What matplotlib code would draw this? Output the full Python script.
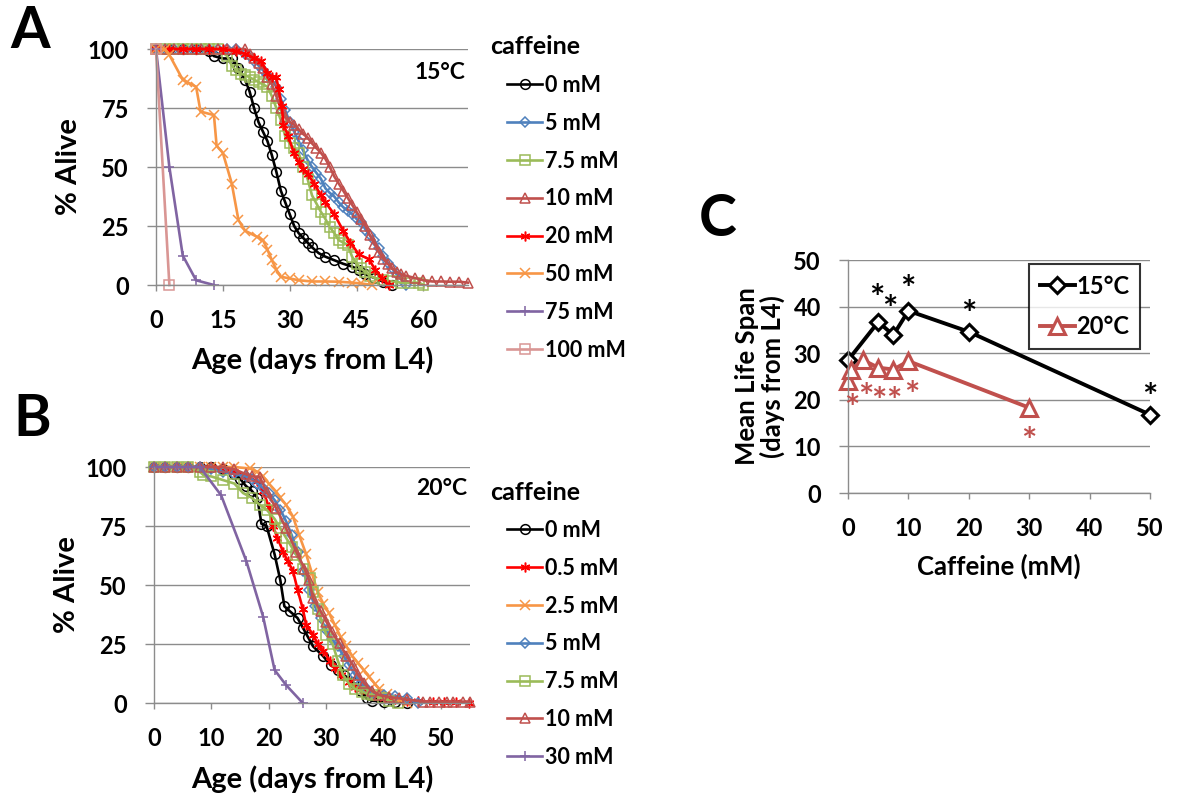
import matplotlib
matplotlib.use("Agg")
import matplotlib.pyplot as plt
from matplotlib.transforms import offset_copy

plt.rcParams["font.family"] = ["Lato", "DejaVu Sans"]
plt.rcParams["font.weight"] = "bold"

# ---- Panel A: 15°C survival (days, % alive) ----
a_0_day = [0, 3, 6, 9, 12, 13, 15, 17, 18.5, 20, 21, 22, 23, 24, 25, 26, 27, 28, 29, 30, 31, 32, 33, 34, 35, 36.5, 38, 40, 42, 44, 45.5, 47, 49, 51, 53]
a_0_val = [100, 100, 100, 100, 99, 97, 96, 96, 92, 87, 82, 75, 69, 65, 61, 55, 48, 40, 35, 30, 25, 22, 20, 18, 16, 13.5, 12, 10.5, 9, 7.8, 6.4, 4.5, 3, 1.4, 0]
a_5_day = [0, 2, 4, 6, 8, 10, 12, 14, 16, 18, 20, 21, 22, 23, 24, 25, 26, 27, 28, 29, 30, 31, 32, 33, 34, 35, 36, 37, 38, 39, 40, 41, 42, 43, 44, 45, 46, 47, 48, 49, 50, 51, 52, 53, 54, 55, 56]
a_5_val = [100, 100, 100, 100, 100, 100, 100, 100, 100, 100, 98, 97, 95, 93, 91, 89, 87, 84, 79, 74, 69, 65, 61, 57, 53, 50, 47.5, 45, 41, 39, 37.5, 35, 33, 31.5, 30, 28, 26.5, 23.5, 21, 19, 15.5, 12.5, 9.5, 7, 4.5, 2.5, 0]
a_75_day = [0, 2, 4, 6, 8, 10, 12, 14, 16, 17, 18, 19, 20, 21, 22, 23, 24, 25, 26, 27, 28, 29, 30, 31, 32, 33, 34, 35, 36, 37, 38, 39, 40, 41, 42, 43, 44, 45, 46, 47, 48, 49, 51, 53, 55, 57, 59, 60]
a_75_val = [100, 100, 100, 100, 100, 100, 100, 100, 97, 93, 91, 89.5, 89, 88, 87, 86, 85, 84, 80, 75, 70, 63, 60, 58, 56, 50, 45, 38, 34.5, 31, 28, 24.5, 22, 19, 18, 17, 12, 9, 7, 5.5, 4, 3, 2, 1.5, 1, 1, 1, 0]
a_10_day = [0, 2, 4, 6, 8, 10, 12, 14, 16, 18, 20, 21, 22, 23, 24, 25, 26, 27, 28, 29, 30, 31, 32, 33, 34, 35, 36, 37, 38, 39, 40, 41, 42, 43, 44, 45, 46, 47, 48, 49, 50, 51, 52, 53, 54, 55, 56, 58, 60, 62, 64, 66, 68, 70]
a_10_val = [100, 100, 100, 100, 100, 100, 100, 100, 100, 100, 100, 98, 96, 94, 92, 88, 85, 80, 75, 71, 69, 68, 66, 64, 62.5, 60, 58, 56, 53.5, 50, 46, 43, 40, 37, 34, 31, 28, 25, 21, 17.5, 14, 11, 9, 7, 5.5, 4.5, 4, 3, 2, 1.5, 1.5, 1.4, 1.4, 1]
a_20_day = [0, 3, 6, 9, 12, 15, 18, 20, 22, 23.5, 25, 26, 27, 27.5, 28.2, 28.6, 29.7, 30.9, 32, 33, 34, 35.5, 37, 38, 40, 42, 43.6, 45.5, 47.7, 49.2, 50.7, 52.2]
a_20_val = [100, 100, 100, 100, 100, 100, 99, 98, 96, 95, 90, 88, 88, 83, 76, 68, 63, 56, 52, 49, 47, 43, 38, 35, 30, 23, 18, 13, 11, 6.5, 3, 0]
a_50_day = [0, 2, 3, 6, 7, 9, 10, 13, 13.6, 15, 17, 18.5, 20, 22.6, 24, 25, 26, 27, 28, 30, 32, 35, 38, 41, 44, 46, 48.5]
a_50_val = [100, 100, 97.5, 87, 86, 84, 73.5, 72, 59, 56, 43, 27.5, 23, 20.5, 19, 15, 10.5, 6.5, 3.5, 2.8, 2, 1.5, 1.5, 1.4, 1, 0.7, 0]
a_750_day = [0, 3, 6, 9, 13]
a_750_val = [100, 50, 12.5, 2, 0]
a_100_day = [0, 3]
a_100_val = [100, 0]

# ---- Panel B: 20°C survival ----
b_0_day = [0, 2, 4, 6, 8, 10, 12, 14, 15, 16, 17, 18, 18.7, 19.6, 21, 22, 22.7, 23.6, 25, 25.9, 26.8, 27.7, 29.4, 30.8, 32, 33, 34.6, 36, 37, 38, 40, 42, 44]
b_0_val = [100, 100, 100, 100, 100, 100, 99, 97, 95, 92, 90, 87, 76, 75, 63, 52, 41, 39, 36, 32, 28, 24, 20, 16, 14, 12, 9, 5, 2, 1, 0.6, 0.5, 0]
b_05_day = [0, 2, 4, 6, 8, 10, 12, 14, 16, 18, 19, 20, 20.7, 21.5, 22.5, 23.3, 24.2, 25, 25.9, 26.5, 27.7, 28.5, 29.5, 30.6, 31.5, 32.5, 34, 35, 36, 37, 38.1, 40, 42, 44, 46, 48.5, 50.5, 52.5, 54.9]
b_05_val = [100, 100, 100, 100, 100, 100, 99, 98, 96, 94, 90, 83, 75, 70, 64, 60, 56, 48, 40, 33, 29, 25, 22, 18, 15, 12, 9, 7, 6, 5, 3.4, 2, 1.5, 1, 0.7, 0.5, 0.5, 0.5, 0]
b_25_day = [0, 2, 4, 6, 8, 10, 12, 14, 16.7, 18, 19, 20, 21.3, 22, 23, 24.2, 25.3, 26.5, 27.5, 28.5, 29.5, 30.5, 31.5, 32.5, 33.5, 34.5, 35.5, 36.5, 37.5, 38.5, 39.2, 40.5, 42, 44]
b_25_val = [100, 100, 100, 100, 100, 100, 100, 100, 99.4, 98, 96, 93, 89.5, 87, 84, 79, 71, 63, 55, 47, 42, 38, 33, 28, 24, 20, 17, 14, 11, 8, 6, 4, 2, 0]
b_5_day = [0, 2, 4, 6, 8, 10, 12, 14, 16, 17, 18, 19, 20, 21, 22, 23, 24, 25, 26, 27, 28, 29, 30, 31, 32, 33, 34, 35, 36, 37, 38, 40, 42, 44, 46]
b_5_val = [100, 100, 100, 100, 100, 99, 98, 97, 96, 95, 93, 91, 89, 86, 82, 77, 71, 64, 56, 48, 41, 36, 31, 27, 24, 20, 16, 12, 8.5, 6, 4, 3.4, 3, 2, 0]
b_75_day = [0, 2, 4, 6, 8, 8.6, 10, 12, 14, 15.5, 17, 18.4, 19.6, 21, 22, 23, 24, 24.8, 26, 27.1, 27.7, 28.5, 29.4, 30, 31.1, 32, 32.9, 34, 35, 36.3, 37, 38.1, 39.8, 41, 42.5]
b_75_val = [100, 100, 100, 100, 98, 96.6, 96, 94.5, 93, 89, 87, 84, 82, 78, 74, 70, 66, 62.7, 57, 53, 47, 40, 33, 29, 25, 18, 12, 8, 6, 4.8, 4, 3.4, 2, 1, 0]
b_10_day = [0, 2, 4, 6, 8, 10, 12, 14, 16, 17, 18.4, 19.6, 21.3, 23, 24.8, 26.2, 27, 27.7, 29, 30, 31, 32.3, 33.5, 34.6, 35.5, 36.6, 38, 39.2, 41, 42.7, 44, 46.8, 48, 49.6, 51, 52, 53.8, 55]
b_10_val = [100, 100, 100, 100, 100, 100, 100, 99, 97, 96, 95.9, 89.5, 82.5, 74, 64, 57, 52, 44.4, 39, 34.5, 30, 25.3, 20, 16.1, 12, 8.3, 5, 3.4, 2.5, 2, 1.5, 0.6, 0.6, 0.6, 0.6, 0.6, 0.6, 0.6]
b_30_day = [0, 2, 4, 6, 8, 11.7, 16.1, 19, 21, 23, 25.9]
b_30_val = [100, 100, 100, 100, 100, 88, 60, 36.6, 14, 7.6, 0]

# ---- Panel C: mean life span ----
c15_dose = [0, 5, 7.5, 10, 20, 50]
c15_life = [28.5, 36.7, 33.9, 39.1, 34.6, 16.8]
c15_star_x = [4.8, 7.0, 9.9, 20, 50]
c15_star_y = [43.8, 41.3, 45.6, 40.3, 22.4]
c20_dose = [0, 0.5, 2.5, 5, 7.5, 10, 30]
c20_life = [24.0, 26.4, 28.5, 26.9, 26.5, 28.3, 18.3]
c20_star_x = [0.7, 2.9, 5.1, 7.6, 10.5, 30]
c20_star_y = [20.2, 22.6, 21.6, 21.6, 23.0, 13.1]

BLACK = "#000000"
BLUE = "#4F81BD"
GREEN = "#9BBB59"
BROWN = "#C0504D"
RED = "#FF0000"
ORANGE = "#F79646"
PURPLE = "#8064A2"
PINK = "#D99694"
GRID = "#8C8C8C"
STAR = (6, 2, 0)


def excel_axes(ax, xmax, xticks, yticks, ymax):
    ax.set_xlim(0, xmax)
    ax.set_ylim(0, ymax)
    ax.set_xticks(xticks)
    ax.set_yticks(yticks)
    ax.yaxis.grid(True, color=GRID, linewidth=1.0)
    ax.set_axisbelow(True)
    for s in ["top", "right"]:
        ax.spines[s].set_visible(False)
    for s in ["left", "bottom"]:
        ax.spines[s].set_color(GRID)
        ax.spines[s].set_linewidth(1.0)
    ax.tick_params(axis="y", length=6.5, width=1.0, color=GRID, pad=13, labelsize=17)
    ax.tick_params(axis="x", length=4, width=1.0, color=GRID, pad=13, labelsize=17)


fig = plt.figure(figsize=(12, 8.09), dpi=100)

axA = fig.add_axes([0.13, 0.6477, 0.26, 0.2917])
axB = fig.add_axes([0.1283, 0.131, 0.2633, 0.2917])
axC = fig.add_axes([0.7067, 0.3906, 0.2517, 0.288])

kw = dict(linewidth=1.9, markeredgewidth=1.1, markerfacecolor="none", clip_on=False)

seriesA = [
    (a_0_day, a_0_val, BLACK, "o", "0 mM"),
    (a_5_day, a_5_val, BLUE, "D", "5 mM"),
    (a_75_day, a_75_val, GREEN, "s", "7.5 mM"),
    (a_10_day, a_10_val, BROWN, "^", "10 mM"),
    (a_20_day, a_20_val, RED, STAR, "20 mM"),
    (a_50_day, a_50_val, ORANGE, "x", "50 mM"),
    (a_750_day, a_750_val, PURPLE, "+", "75 mM"),
    (a_100_day, a_100_val, PINK, "s", "100 mM"),
]
handlesA = []
for d, v, c, m, lab in seriesA:
    ms = 5.5 if m == "D" else 7
    h, = axA.plot(d, v, color=c, marker=m, markersize=ms, label=lab, **kw)
    handlesA.append(h)
excel_axes(axA, 70, [0, 15, 30, 45, 60], [0, 25, 50, 75, 100], 100)
axA.text(69.5, 90, "15°C", ha="right", va="center", fontsize=16.5, fontweight="bold")
axA.set_xlabel("Age (days from L4)", fontsize=21, fontweight="bold", labelpad=11)
axA.set_ylabel("% Alive", fontsize=21, fontweight="bold", labelpad=4)

seriesB = [
    (b_0_day, b_0_val, BLACK, "o", "0 mM"),
    (b_05_day, b_05_val, RED, STAR, "0.5 mM"),
    (b_25_day, b_25_val, ORANGE, "x", "2.5 mM"),
    (b_5_day, b_5_val, BLUE, "D", "5 mM"),
    (b_75_day, b_75_val, GREEN, "s", "7.5 mM"),
    (b_10_day, b_10_val, BROWN, "^", "10 mM"),
    (b_30_day, b_30_val, PURPLE, "+", "30 mM"),
]
handlesB = []
for d, v, c, m, lab in seriesB:
    ms = 5.5 if m == "D" else 7
    h, = axB.plot(d, v, color=c, marker=m, markersize=ms, label=lab, **kw)
    handlesB.append(h)
excel_axes(axB, 55, [0, 10, 20, 30, 40, 50], [0, 25, 50, 75, 100], 100)
axB.text(54.5, 91, "20°C", ha="right", va="center", fontsize=16.5, fontweight="bold")
axB.set_xlabel("Age (days from L4)", fontsize=21, fontweight="bold", labelpad=11)
axB.set_ylabel("% Alive", fontsize=21, fontweight="bold", labelpad=4)

legkw = dict(frameon=False, fontsize=15.5, labelspacing=0.78, handlelength=1.63,
             handletextpad=0.15, borderpad=0, borderaxespad=0, numpoints=1)
fig.legend(handles=handlesA, loc="upper left", bbox_to_anchor=(507 / 1200, 1 - 75 / 809), **legkw)
fig.legend(handles=handlesB, loc="upper left", bbox_to_anchor=(507 / 1200, 1 - 520 / 809), **legkw)
fig.text(490 / 1200, 1 - 47 / 809, "caffeine", fontsize=18, fontweight="bold", va="center")
fig.text(490 / 1200, 1 - 492 / 809, "caffeine", fontsize=18, fontweight="bold", va="center")

# Panel C
hc1, = axC.plot(c15_dose, c15_life, color=BLACK, marker="D", markersize=8.5, linewidth=2.8,
                markerfacecolor="white", markeredgewidth=2.2, clip_on=False, label="15°C")
hc2, = axC.plot(c20_dose, c20_life, color=BROWN, marker="^", markersize=11, linewidth=2.8,
                markerfacecolor="white", markeredgewidth=2.2, clip_on=False, label="20°C")
excel_axes(axC, 50, [0, 10, 20, 30, 40, 50], [0, 10, 20, 30, 40, 50], 50)
star_tr = offset_copy(axC.transData, fig=fig, y=-15, units="points")
for x, y in zip(c15_star_x, c15_star_y):
    axC.text(x, y, "*", transform=star_tr, ha="center", va="baseline", fontsize=26,
             fontweight="bold", color=BLACK)
for x, y in zip(c20_star_x, c20_star_y):
    axC.text(x, y, "*", transform=star_tr, ha="center", va="baseline", fontsize=26,
             fontweight="bold", color=BROWN)
axC.set_xlabel("Caffeine (mM)", fontsize=18.5, fontweight="bold", labelpad=10)
axC.set_ylabel("Mean Life Span\n(days from L4)", fontsize=18.5, fontweight="bold", labelpad=6,
               linespacing=1.05)
lc = axC.legend(handles=[hc1, hc2], loc="upper right", bbox_to_anchor=(1140 / 1200, 1 - 264 / 809),
                bbox_transform=fig.transFigure, fontsize=17, handlelength=1.5, handletextpad=0.05,
                fancybox=False, edgecolor="black", borderpad=0.45, labelspacing=0.75,
                borderaxespad=0)
lc.get_frame().set_linewidth(1.5)

fig.text(30 / 1200, 1 - 32 / 809, "A", fontsize=41, fontweight="bold", ha="center", va="center")
fig.text(32 / 1200, 1 - 420 / 809, "B", fontsize=41, fontweight="bold", ha="center", va="center")
fig.text(718 / 1200, 1 - 220 / 809, "C", fontsize=41, fontweight="bold", ha="center", va="center")

fig.savefig("out.png", dpi=100)
